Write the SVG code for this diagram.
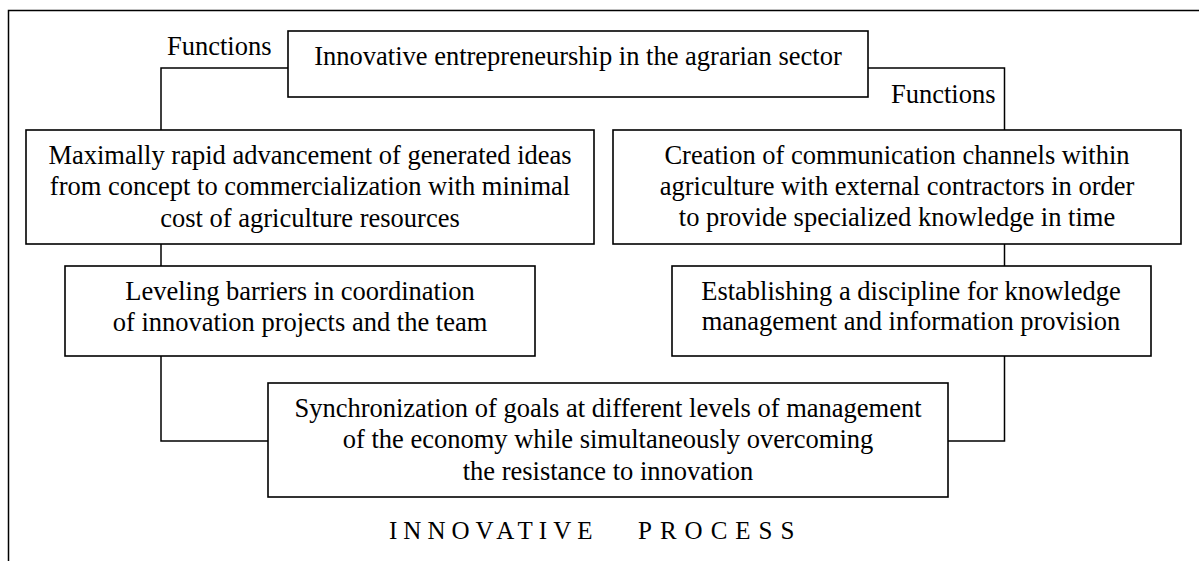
<svg xmlns="http://www.w3.org/2000/svg" width="1199" height="561" viewBox="0 0 1199 561">
<style>
.box{fill:#fff;stroke:#000;stroke-width:1.6}
.ln{fill:none;stroke:#000;stroke-width:1.5}
.t{font-family:"Liberation Serif","Times New Roman",Tinos,serif;font-size:26.5px;fill:#000;text-anchor:middle}
.lbl{font-family:"Liberation Serif","Times New Roman",Tinos,serif;font-size:26.5px;fill:#000}
.big{font-family:"Liberation Serif","Times New Roman",Tinos,serif;font-size:25px;fill:#000}
</style>
<rect width="1199" height="561" fill="#fff"/>
<path class="ln" d="M8.5,561 V10.5 H1199"/>
<g id="connectors">
<path class="ln" d="M288,68 H161 V130"/>
<path class="ln" d="M868,68 H1004.5 V130"/>
<path class="ln" d="M161,244 V266"/>
<path class="ln" d="M1004.5,244 V266"/>
<path class="ln" d="M161,356 V441 H268"/>
<path class="ln" d="M1004.5,356 V441 H948"/>
</g>
<g id="label-functions-left"><text class="lbl" x="167" y="55">Functions</text></g>
<g id="label-functions-right"><text class="lbl" x="891" y="103">Functions</text></g>
<g id="top">
<rect class="box" x="288" y="31" width="580" height="66"/>
<text class="t" x="578" y="65">Innovative entrepreneurship in the agrarian sector</text>
</g>
<g id="left1">
<rect class="box" x="26" y="130" width="568" height="114"/>
<text class="t" x="310" y="164">Maximally rapid advancement of generated ideas</text>
<text class="t" x="310" y="195">from concept to commercialization with minimal</text>
<text class="t" x="310" y="227">cost of agriculture resources</text>
</g>
<g id="right1">
<rect class="box" x="613" y="130" width="568" height="114"/>
<text class="t" x="897" y="164">Creation of communication channels within</text>
<text class="t" x="897" y="195">agriculture with external contractors in order</text>
<text class="t" x="897" y="226">to provide specialized knowledge in time</text>
</g>
<g id="left2">
<rect class="box" x="65" y="266" width="470" height="90"/>
<text class="t" x="300" y="300">Leveling barriers in coordination</text>
<text class="t" x="300" y="331">of innovation projects and the team</text>
</g>
<g id="right2">
<rect class="box" x="672" y="266" width="479" height="90"/>
<text class="t" x="911" y="300">Establishing a discipline for knowledge</text>
<text class="t" x="911" y="330">management and information provision</text>
</g>
<g id="bottom">
<rect class="box" x="268" y="383" width="680" height="114"/>
<text class="t" x="608" y="417">Synchronization of goals at different levels of management</text>
<text class="t" x="608" y="448">of the economy while simultaneously overcoming</text>
<text class="t" x="608" y="480">the resistance to innovation</text>
</g>
<text class="big" y="539"><tspan x="389" letter-spacing="6">INNOVATIVE</tspan> <tspan x="638" letter-spacing="8">PROCESS</tspan></text>
</svg>
